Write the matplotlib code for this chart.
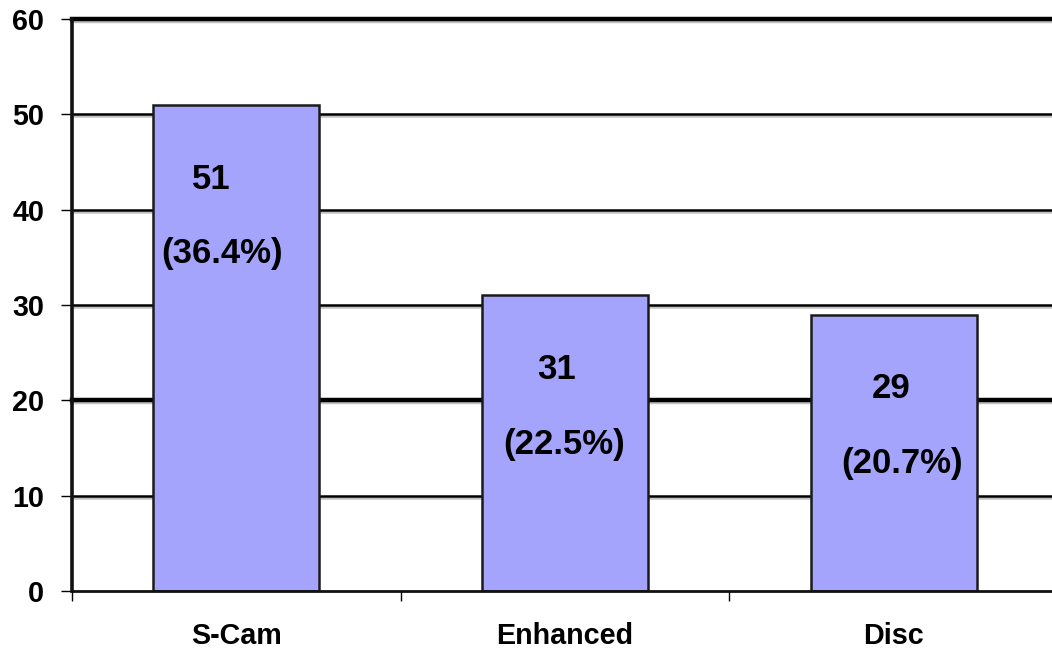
import matplotlib
matplotlib.use("Agg")
import matplotlib.pyplot as plt
import matplotlib.patheffects as pe

# Data
categories = ["S-Cam", "Enhanced", "Disc"]
counts = [51, 31, 29]
percents = ["(36.4%)", "(22.5%)", "(20.7%)"]
y_ticks = [0, 10, 20, 30, 40, 50, 60]

# Label layout (horizontal nudges in category units)
count_dx = [-0.075, -0.027, -0.009]
pct_dx = [-0.042, -0.003, 0.027]

plt.rcParams['font.family'] = ['Liberation Sans', 'DejaVu Sans']
plt.rcParams['font.weight'] = 'bold'

fig = plt.figure(figsize=(10.52, 6.49), dpi=100)
ax = fig.add_axes([0.0684, 0.0894, 0.9373, 0.8813])
ax.set_xlim(-0.5, 2.5)
ax.set_ylim(0, 60)

shadow = [pe.SimpleLineShadow(offset=(0, -1.5), shadow_color='#999999', alpha=0.6), pe.Normal()]

# Horizontal gridlines
for y in y_ticks[1:]:
    lw = 3.2 if y in (20, 60) else 1.8
    ax.axhline(y, color='black', lw=lw, zorder=1, path_effects=shadow, clip_on=False)

x = list(range(len(categories)))
ax.bar(x, counts, width=0.505, color='#a4a4fc', edgecolor='#1a1a1a',
       linewidth=1.8, zorder=2)

for i, (c, p) in enumerate(zip(counts, percents)):
    ax.text(i + count_dx[i], c - 7.8, str(c), ha='center', va='center',
            fontsize=25, fontweight='bold', zorder=3)
    ax.text(i + pct_dx[i], c - 15.6, p, ha='center', va='center',
            fontsize=25, fontweight='bold', zorder=3)

# Axes styling
for s in ('top', 'right'):
    ax.spines[s].set_visible(False)
ax.spines['left'].set_linewidth(2.6)
ax.spines['left'].set_color('#111111')
ax.spines['bottom'].set_linewidth(2.0)
ax.spines['bottom'].set_color('#111111')

ax.set_yticks(y_ticks)
ax.set_yticklabels([str(v) for v in y_ticks], fontsize=20.7, fontweight='bold')
ax.tick_params(axis='y', length=8, width=1, pad=12, direction='out')

ax.set_xticks(x)
ax.set_xticklabels(categories, fontsize=20.7, fontweight='bold')
ax.tick_params(axis='x', length=0, pad=22)
ax.set_xticks([-0.5, 0.5, 1.5], minor=True)
ax.tick_params(axis='x', which='minor', length=7, width=1, direction='out')

fig.savefig("out.png", dpi=100, facecolor='white')
